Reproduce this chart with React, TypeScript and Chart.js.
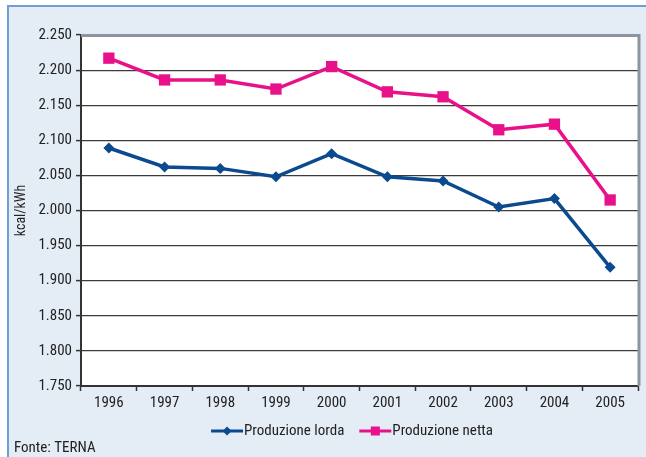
import React, { useEffect, useRef } from "react";
import { Chart, registerables } from "chart.js";

Chart.register(...registerables);

const years = ["1996", "1997", "1998", "1999", "2000", "2001", "2002", "2003", "2004", "2005"];
const lorda = [2089, 2062, 2060, 2048, 2081, 2048, 2042, 2005, 2017, 1919];
const netta = [2217, 2186, 2186, 2173, 2205, 2169, 2162, 2115, 2123, 2015];
const seriesNames = ["Produzione lorda", "Produzione netta"];
const yTitle = "kcal/kWh";
const sourceNote = "Fonte: TERNA";

const BLUE = "#0b4a8e";
const MAGENTA = "#e8118a";
const FONT = "'Liberation Sans Narrow', 'Arial Narrow', 'Roboto Condensed', 'Liberation Sans', Arial, sans-serif";
const TEXT = "#222";

const fmt = (v: number) => Math.floor(v / 1000) + "." + String(Math.round(v % 1000)).padStart(3, "0");

const framePlugin = {
  id: "frame",
  beforeDraw(chart: any) {
    const { ctx, width, height, chartArea } = chart;
    ctx.save();
    ctx.fillStyle = "#ffffff";
    ctx.fillRect(0, 0, width, height);
    ctx.fillStyle = "#e4ecf6";
    ctx.fillRect(8, 6, width - 8, height - 6);
    ctx.strokeStyle = "#6f9fd4";
    ctx.lineWidth = 2;
    ctx.beginPath();
    ctx.moveTo(8, height);
    ctx.lineTo(8, 6);
    ctx.lineTo(width, 6);
    ctx.stroke();
    ctx.fillStyle = "#ffffff";
    ctx.fillRect(chartArea.left, chartArea.top, chartArea.right - chartArea.left, chartArea.bottom - chartArea.top);
    ctx.restore();
  },
  beforeDatasetsDraw(chart: any) {
    const { ctx, chartArea } = chart;
    ctx.save();
    ctx.strokeStyle = "#8c959d";
    ctx.lineWidth = 3;
    ctx.beginPath();
    ctx.moveTo(chartArea.left, chartArea.top + 0.5);
    ctx.lineTo(chartArea.right + 1, chartArea.top + 0.5);
    ctx.lineTo(chartArea.right + 1, chartArea.bottom);
    ctx.stroke();
    ctx.restore();
  },
  afterDraw(chart: any) {
    const { ctx, height } = chart;
    ctx.save();
    ctx.font = `15px ${FONT}`;
    ctx.fillStyle = TEXT;
    ctx.textBaseline = "middle";
    ctx.textAlign = "left";
    // legend
    const items = [
      { label: seriesNames[0], color: BLUE, style: "diamond" },
      { label: seriesNames[1], color: MAGENTA, style: "square" },
    ];
    const lineW = 32;
    const gap = 1;
    const itemGap = 15;
    const widths = items.map((it) => lineW + gap + ctx.measureText(it.label).width);
    const total = widths.reduce((a, b) => a + b, 0) + itemGap;
    let x = 352 - total / 2;
    const y = 431;
    items.forEach((it, i) => {
      ctx.strokeStyle = it.color;
      ctx.lineWidth = 3;
      ctx.beginPath();
      ctx.moveTo(x, y);
      ctx.lineTo(x + lineW, y);
      ctx.stroke();
      ctx.fillStyle = it.color;
      const cx = x + lineW / 2;
      ctx.beginPath();
      if (it.style === "diamond") {
        ctx.moveTo(cx, y - 4.5);
        ctx.lineTo(cx + 4.5, y);
        ctx.lineTo(cx, y + 4.5);
        ctx.lineTo(cx - 4.5, y);
        ctx.closePath();
      } else {
        ctx.rect(cx - 4.5, y - 4.5, 9, 9);
      }
      ctx.fill();
      ctx.fillStyle = TEXT;
      ctx.fillText(it.label, x + lineW + gap, y);
      x += widths[i] + itemGap;
    });
    // source
    ctx.fillStyle = TEXT;
    ctx.textBaseline = "alphabetic";
    ctx.fillText(sourceNote, 14, height - 5);
    ctx.restore();
  },
};

export default function App() {
  const ref = useRef<HTMLCanvasElement | null>(null);
  useEffect(() => {
    document.body.style.margin = "0";
    const canvas = ref.current!;
    const chart = new Chart(canvas, {
      type: "line",
      data: {
        labels: years,
        datasets: [
          {
            label: seriesNames[0],
            data: lorda,
            borderColor: BLUE,
            backgroundColor: BLUE,
            borderWidth: 3.5,
            pointStyle: "rectRot",
            pointRadius: 5.5,
            pointHoverRadius: 5.5,
            pointBorderWidth: 0,
            tension: 0,
          },
          {
            label: seriesNames[1],
            data: netta,
            borderColor: MAGENTA,
            backgroundColor: MAGENTA,
            borderWidth: 3.5,
            pointStyle: "rect",
            pointRadius: 8,
            pointHoverRadius: 8,
            pointBorderWidth: 0,
            tension: 0,
          },
        ],
      },
      options: {
        animation: false,
        responsive: false,
        maintainAspectRatio: false,
        layout: { padding: { left: 0, top: 35, right: 5, bottom: 0 } },
        plugins: {
          legend: { display: false },
          tooltip: { enabled: false },
        },
        scales: {
          x: {
            type: "category",
            offset: true,
            grid: {
              offset: true,
              drawOnChartArea: false,
              drawTicks: true,
              tickLength: 5,
              tickColor: "#333",
              tickWidth: 1.5,
            },
            border: { display: true, color: "#333", width: 2 },
            ticks: {
              color: TEXT,
              font: { family: FONT, size: 15 },
              padding: 3,
              maxRotation: 0,
            },
            afterFit(scale: any) {
              scale.height = 71;
            },
          },
          y: {
            min: 1750,
            max: 2250,
            ticks: {
              stepSize: 50,
              color: TEXT,
              font: { family: FONT, size: 15 },
              padding: 4,
              callback: (v: any) => fmt(Number(v)),
            },
            grid: {
              color: (c: any) => (c.tick && c.tick.value === 2250 ? "rgba(0,0,0,0)" : "#3c3c3c"),
              lineWidth: 1.2,
              tickLength: 5,
              tickColor: "#333",
              tickWidth: 1.5,
            },
            border: { display: true, color: "#333", width: 2 },
            title: {
              display: true,
              text: yTitle,
              color: TEXT,
              font: { family: FONT, size: 14 },
              padding: { top: 13, bottom: 0 },
            },
            afterFit(scale: any) {
              scale.width = 81;
            },
          },
        },
      },
      plugins: [framePlugin],
    } as any);
    return () => chart.destroy();
  }, []);
  return <canvas ref={ref} width={646} height={457} style={{ display: "block" }} />;
}
